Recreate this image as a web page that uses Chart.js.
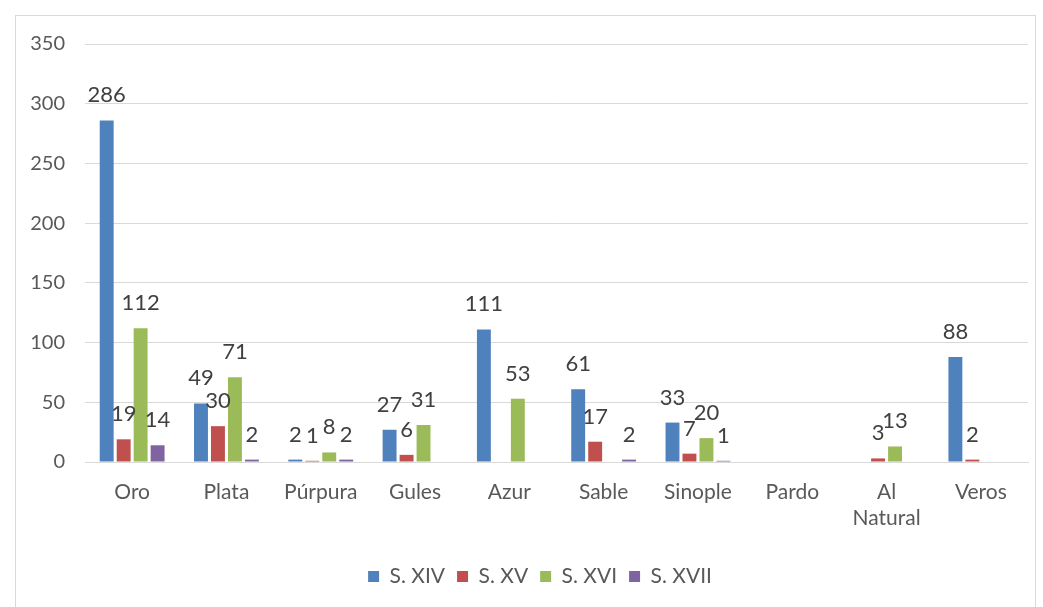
<!DOCTYPE html>
<html>
<head>
<meta charset="utf-8">
<script src="https://cdn.jsdelivr.net/npm/chart.js@4.4.0/dist/chart.umd.min.js"></script>
<style>
  html, body { margin: 0; background: #fff; overflow: hidden; }
  #marco { position: absolute; left: 15px; top: 15px; width: 1019px; height: 600px; border: 1px solid #d9d9d9; }
  #lienzo { position: absolute; left: 0; top: 0; width: 1043px; height: 607px; }
</style>
</head>
<body>
<div id="marco"></div>
<div id="lienzo"><canvas id="grafico" width="1043" height="607"></canvas></div>
<script>
// colores heráldicos por siglo
var categorias = ["Oro", "Plata", "Púrpura", "Gules", "Azur", "Sable", "Sinople", "Pardo", ["Al", "Natural"], "Veros"];
var sigloXIV  = [286, 49, 2, 27, 111, 61, 33, null, null, 88];
var sigloXV   = [19, 30, 1, 6, null, 17, 7, null, 3, 2];
var sigloXVI  = [112, 71, 8, 31, 53, null, 20, null, 13, null];
var sigloXVII = [14, 2, 2, null, null, 2, 1, null, null, null];
var series = ["S. XIV", "S. XV", "S. XVI", "S. XVII"];

var fuente = "Lato, 'Open Sans', sans-serif";

// etiquetas de valor encima de cada barra
var etiquetas = {
    id: "etiquetas",
    afterDatasetsDraw: function (chart) {
        var ctx = chart.ctx;
        ctx.save();
        ctx.font = "22px " + fuente;
        ctx.fillStyle = "#404040";
        ctx.textAlign = "center";
        ctx.textBaseline = "alphabetic";
        chart.data.datasets.forEach(function (ds, i) {
            var meta = chart.getDatasetMeta(i);
            meta.data.forEach(function (bar, j) {
                var v = ds.data[j];
                if (v === null || v === undefined) return;
                ctx.fillText(String(v), bar.x, bar.y - 18);
            });
        });
        ctx.restore();
    }
};

// la leyenda queda algo corrida a la derecha, como en el original
var correrLeyenda = {
    id: "correrLeyenda",
    afterLayout: function (chart) {
        if (chart.legend) chart.legend.left = 52;
    }
};

var ctx = document.getElementById("grafico").getContext("2d");
new Chart(ctx, {
    type: "bar",
    data: {
        labels: categorias,
        datasets: [
            { label: series[0], data: sigloXIV,  backgroundColor: "#4f81bd" },
            { label: series[1], data: sigloXV,   backgroundColor: "#c0504d" },
            { label: series[2], data: sigloXVI,  backgroundColor: "#9bbb59" },
            { label: series[3], data: sigloXVII, backgroundColor: "#8064a2" }
        ]
    },
    options: {
        responsive: false,
        animation: false,
        layout: { padding: { left: 0, right: 15, top: 44, bottom: 10 } },
        datasets: { bar: { categoryPercentage: 0.72, barPercentage: 0.82 } },
        scales: {
            x: {
                grid: { display: false, drawTicks: false },
                border: { display: true, color: "#d9d9d9" },
                ticks: { color: "#595959", font: { family: fuente, size: 21 }, padding: 18, maxRotation: 0, autoSkip: false },
                afterFit: function (s) { s.height = 92; }
            },
            y: {
                min: 0, max: 350,
                ticks: { stepSize: 50, color: "#595959", font: { family: fuente, size: 20 }, padding: 20 },
                grid: { color: "#d9d9d9", drawTicks: false },
                border: { display: false },
                afterFit: function (s) { s.width = 85; }
            }
        },
        plugins: {
            legend: {
                position: "bottom",
                labels: { color: "#595959", font: { family: fuente, size: 21 }, boxWidth: 11, boxHeight: 11, padding: 12 }
            },
            tooltip: { enabled: false }
        }
    },
    plugins: [etiquetas, correrLeyenda]
});
</script>
</body>
</html>
